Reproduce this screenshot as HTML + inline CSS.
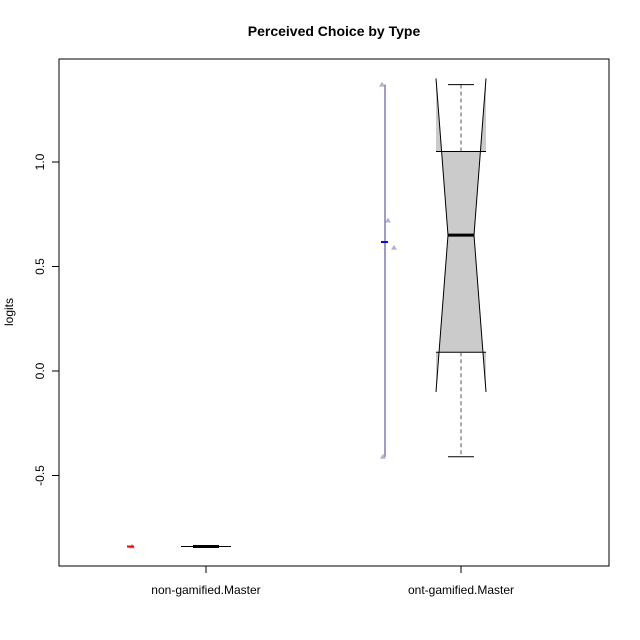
<!DOCTYPE html>
<html><head><meta charset="utf-8"><style>body{margin:0;background:#fff}svg{display:block;font-family:"Liberation Sans",sans-serif}</style></head>
<body>
<svg id="c" width="640" height="640"></svg>
<script>
const categories=["non-gamified.Master","ont-gamified.Master"];
const boxMin=[-0.84,-0.41];
const boxQ1=[-0.84,0.09];
const boxMed=[-0.84,0.65];
const boxQ3=[-0.84,1.05];
const boxMax=[-0.84,1.37];
const notchLo=[-0.84,-0.10];
const notchHi=[-0.84,1.40];
const pts1=[-0.84];
const pts2=[1.37,0.72,0.59,-0.41];
const meanVals=[-0.84,0.617];
const yTicks=[-0.5,0.0,0.5,1.0];
const yTickLabels=["-0.5","0.0","0.5","1.0"];
const NS="http://www.w3.org/2000/svg",svg=document.getElementById('c');
const y=v=>371-v*209;
const xc=i=>206+i*255;
const xs=i=>131+i*254;
function el(t,a,p){const e=document.createElementNS(NS,t);for(const k in a)e.setAttribute(k,a[k]);(p||svg).appendChild(e);return e;}
let e;
e=el('text',{x:334,y:36,'text-anchor':'middle','font-size':14,'font-weight':'bold'});e.textContent="Perceived Choice by Type";


e=el('rect',{x:59,y:59,width:550,height:507,fill:'none',stroke:'#000'});


yTicks.forEach((v,i)=>{el('line',{x1:52,x2:59,y1:y(v),y2:y(v),stroke:'#000'});
 const t=el('text',{x:0,y:0,'text-anchor':'middle','font-size':12,transform:`translate(44,${y(v)}) rotate(-90)`});t.textContent=yTickLabels[i];
 
 });
e=el('text',{x:0,y:0,'text-anchor':'middle','font-size':12,transform:'translate(13,312) rotate(-90)'});e.textContent="logits";


categories.forEach((c,i)=>{el('line',{x1:xc(i),x2:xc(i),y1:566,y2:573,stroke:'#000'});
 const t=el('text',{x:xc(i),y:594,'text-anchor':'middle','font-size':12});t.textContent=c;
 
 });
categories.forEach((c,i)=>{const g=el('g',{});
 
 
 const x=xc(i),hw=25,nw=13;
 if(boxQ3[i]-boxQ1[i]<0.001){el('line',{x1:x-hw,x2:x+hw,y1:y(boxMed[i]),y2:y(boxMed[i]),stroke:'#000'},g);
  el('line',{x1:x-13,x2:x+13,y1:y(boxMed[i]),y2:y(boxMed[i]),stroke:'#000','stroke-width':3},g);return;}
 const L=x-hw,R=x+hw,yH=y(notchHi[i]),yL=y(notchLo[i]),yM=y(boxMed[i]),y3=y(boxQ3[i]),y1=y(boxQ1[i]);
 const lx=yy=>L+(hw-nw)*(yy<=yM?(yy-yH)/(yM-yH):(yL-yy)/(yL-yM));
 const rx=yy=>2*x-lx(yy);
 // central notched region
 el('path',{d:`M${lx(y3)},${y3} L${x-nw},${yM} L${lx(y1)},${y1} L${rx(y1)},${y1} L${x+nw},${yM} L${rx(y3)},${y3} Z`,fill:'#cbcbcb',stroke:'none'},g);
 // outer wedges
 el('path',{d:`M${L},${yH} L${L},${y3} L${lx(y3)},${y3} Z M${R},${yH} L${R},${y3} L${rx(y3)},${y3} Z M${L},${yL} L${L},${y1} L${lx(y1)},${y1} Z M${R},${yL} L${R},${y1} L${rx(y1)},${y1} Z`,fill:'#cbcbcb',stroke:'none'},g);
 el('path',{d:`M${L},${yH} L${x-nw},${yM} L${L},${yL} M${R},${yH} L${x+nw},${yM} L${R},${yL}`,fill:'none',stroke:'#000'},g);
 el('line',{x1:L,x2:R,y1:y3,y2:y3,stroke:'#000'},g);
 el('line',{x1:L,x2:R,y1:y1,y2:y1,stroke:'#000'},g);
 el('line',{x1:x-nw,x2:x+nw,y1:yM,y2:yM,stroke:'#000','stroke-width':3},g);
 el('line',{x1:x,x2:x,y1:y3,y2:y(boxMax[i]),stroke:'#555','stroke-dasharray':'4,3'},g);
 el('line',{x1:x,x2:x,y1:y1,y2:y(boxMin[i]),stroke:'#555','stroke-dasharray':'4,3'},g);
 el('line',{x1:x-13,x2:x+13,y1:y(boxMax[i]),y2:y(boxMax[i]),stroke:'#000'},g);
 el('line',{x1:x-13,x2:x+13,y1:y(boxMin[i]),y2:y(boxMin[i]),stroke:'#000'},g);
});
e=el('line',{x1:xs(1),x2:xs(1),y1:y(Math.max(...pts2)),y2:y(Math.min(...pts2)),stroke:'#3a3aa0'});


const jit=[-3,3,9,-2];
[pts1,pts2].forEach((arr,g)=>arr.forEach((v,j)=>{const px=xs(g)+(g?jit[j]:1),py=y(v);
 const p=el('polygon',{points:`${px},${py-3} ${px-3},${py+2} ${px+3},${py+2}`,fill:'#b4b4c8'});
 
 }));
meanVals.forEach((v,i)=>{const m=el('line',{x1:xs(i)-4,x2:xs(i)+3,y1:y(v),y2:y(v),stroke:i?'#0000ee':'#e00','stroke-width':2});
 
 });
</script>
</body></html>
